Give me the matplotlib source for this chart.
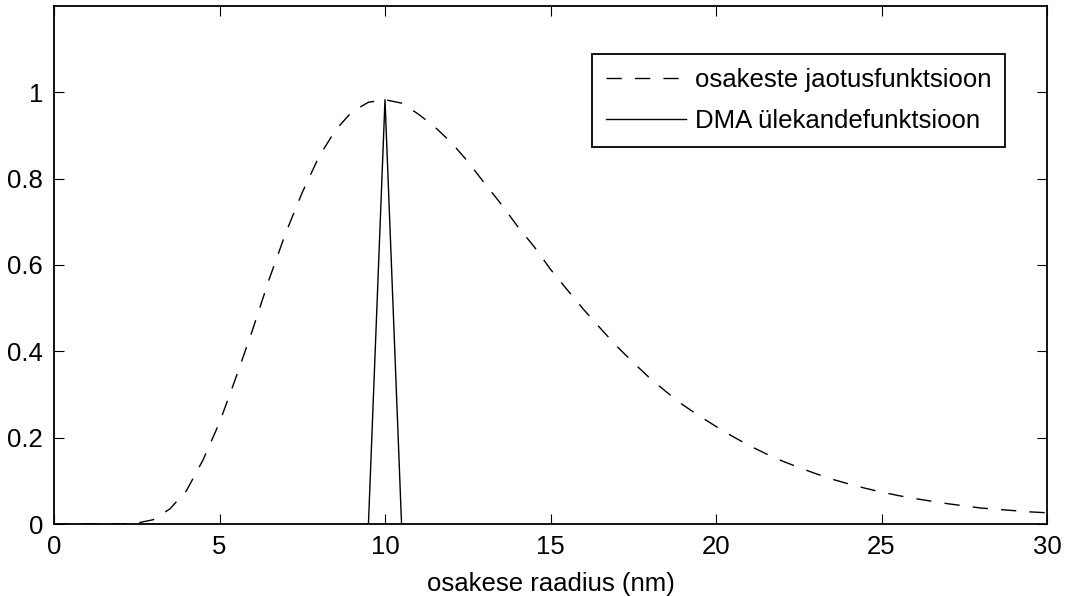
import matplotlib
matplotlib.use("Agg")
import numpy as np
import matplotlib.pyplot as plt

# particle size distribution (step 0.5 nm)
radius = np.arange(0, 30.5, 0.5)
distribution = [0, 0, 0, 0, 0, 0.002, 0.01, 0.035, 0.077, 0.148,
                0.235, 0.34, 0.45, 0.567, 0.674, 0.768, 0.85, 0.912, 0.955, 0.977,
                0.983, 0.975, 0.95, 0.92, 0.884, 0.84, 0.79, 0.742, 0.69, 0.643,
                0.59, 0.543, 0.497, 0.454, 0.412, 0.374, 0.338, 0.306, 0.276, 0.25,
                0.226, 0.203, 0.182, 0.163, 0.146, 0.131, 0.117, 0.104, 0.093, 0.083,
                0.074, 0.066, 0.059, 0.053, 0.047, 0.042, 0.037, 0.034, 0.031, 0.028,
                0.026]

# DMA transfer function (triangle)
dma_radius = [9.5, 10, 10.5]
dma_transfer = [0, 0.983, 0]

x_ticks = [0, 5, 10, 15, 20, 25, 30]
y_ticks = [0, 0.2, 0.4, 0.6, 0.8, 1]
y_labels = ["0", "0.2", "0.4", "0.6", "0.8", "1"]

plt.rcParams['font.family'] = ['Liberation Sans', 'DejaVu Sans']
plt.rcParams['font.size'] = 18.5

fig = plt.figure(figsize=(10.72, 5.96), dpi=100)
ax = fig.add_axes([54 / 1072, 72 / 596, 993 / 1072, 518 / 596])

ax.plot(radius, distribution, color='k', lw=1.0, dashes=(11, 9.5),
        label='osakeste jaotusfunktsioon')
ax.plot(dma_radius, dma_transfer, color='k', lw=1.0, label='DMA ülekandefunktsioon')

ax.set_xlim(0, 30)
ax.set_ylim(0, 1.2)
ax.set_xticks(x_ticks)
ax.set_yticks(y_ticks)
ax.set_yticklabels(y_labels)
ax.tick_params(direction='in', length=7, width=0.8, top=True, right=True, labelsize=18.5)
ax.tick_params(axis='x', pad=8)
ax.tick_params(axis='y', pad=8)
for s in ax.spines.values():
    s.set_linewidth(1.3)

ax.set_xlabel('osakese raadius (nm)', fontsize=18.5, labelpad=9)

leg = ax.legend(loc='upper right', bbox_to_anchor=(0.958, 0.907), fancybox=False,
                edgecolor='k', framealpha=1, fontsize=18.5, handlelength=3.1,
                handletextpad=0.35, borderpad=0.55, labelspacing=0.65, borderaxespad=0)
leg.get_frame().set_linewidth(1.3)

fig.savefig('out.png', dpi=100)
